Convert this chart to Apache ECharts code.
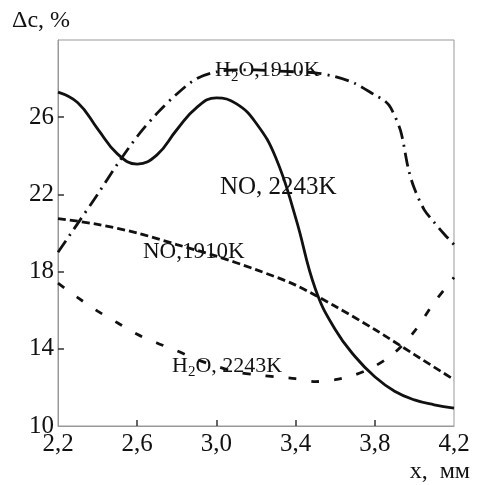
<!DOCTYPE html>
<html>
<head>
<meta charset="utf-8">
<script src="https://cdn.jsdelivr.net/npm/echarts@6/dist/echarts.min.js"></script>
<style>
  html, body { margin: 0; padding: 0; background: #fff; }
  #chart { width: 480px; height: 485px; }
</style>
</head>
<body>
<div id="chart"></div>
<script>
// NO concentration change at 2243 K (solid)
const noHotX = [2.2, 2.3, 2.4, 2.5, 2.6, 2.7, 2.8, 2.9, 3.0, 3.1, 3.2, 3.3, 3.4, 3.5, 3.6, 3.7, 3.8, 3.9, 4.0, 4.1, 4.2];
const noHotY = [27.3, 26.75, 25.4, 24.1, 23.57, 24.05, 25.35, 26.5, 27.0, 26.7, 25.7, 23.9, 20.8, 17.1, 15.0, 13.6, 12.55, 11.8, 11.35, 11.1, 10.93];

// H2O concentration change at 1910 K (dash-dot)
const h2oColdX = [2.2, 2.3, 2.4, 2.5, 2.6, 2.7, 2.8, 2.9, 3.0, 3.1, 3.2, 3.3, 3.4, 3.5, 3.6, 3.7, 3.8, 3.85, 3.88, 3.93, 3.97, 4.0, 4.05, 4.1, 4.15, 4.2];
const h2oColdY = [19.0, 20.5, 22.0, 23.57, 25.0, 26.2, 27.2, 28.0, 28.35, 28.45, 28.45, 28.4, 28.35, 28.3, 28.1, 27.75, 27.15, 26.85, 26.5, 25.3, 23.3, 22.3, 21.2, 20.55, 19.95, 19.4];

// NO concentration change at 1910 K (dashed)
const noColdX = [2.2, 2.4, 2.6, 2.8, 3.0, 3.2, 3.4, 3.6, 3.8, 4.0, 4.2];
const noColdY = [20.75, 20.45, 20.0, 19.4, 18.8, 18.1, 17.3, 16.2, 15.0, 13.7, 12.4];

// H2O concentration change at 2243 K (sparse dashes)
const h2oHotX = [2.2, 2.3, 2.4, 2.5, 2.6, 2.7, 2.8, 2.9, 3.0, 3.1, 3.2, 3.3, 3.4, 3.5, 3.6, 3.7, 3.8, 3.9, 4.0, 4.1, 4.2];
const h2oHotY = [17.4, 16.65, 15.95, 15.35, 14.75, 14.3, 13.9, 13.45, 13.1, 12.8, 12.65, 12.55, 12.45, 12.3, 12.4, 12.65, 13.1, 13.8, 14.9, 16.4, 17.7];

// axis ticks
const xTickLabels = [2.2, 2.6, 3.0, 3.4, 3.8, 4.2];
const xInnerTicks = [2.6, 3.0, 3.4, 3.8];
const yTickLabels = [10, 14, 18, 22, 26];

const serif = "'Liberation Serif', 'Times New Roman', serif";
const ink = '#111';

function pairs(xs, ys) { return xs.map((x, i) => [x, ys[i]]); }

const chart = echarts.init(document.getElementById('chart'));

const baseLine = { type: 'line', symbol: 'none', smooth: 0.3, z: 3 };

chart.setOption({
  animation: false,
  backgroundColor: '#fff',
  grid: { left: 58, top: 40, right: 26, bottom: 59, show: true, borderColor: '#999', borderWidth: 1 },
  xAxis: {
    type: 'value', min: 2.2, max: 4.2,
    axisLine: { show: true, lineStyle: { color: '#999', width: 1 } },
    axisTick: { show: true, inside: true, length: 6, customValues: xInnerTicks, lineStyle: { color: '#333', width: 1.5 } },
    axisLabel: {
      customValues: xTickLabels, margin: 6, color: ink, fontFamily: serif, fontSize: 25,
      formatter: v => v.toFixed(1).replace('.', ',')
    },
    splitLine: { show: false }
  },
  yAxis: {
    type: 'value', min: 10, max: 30,
    axisLine: { show: true, lineStyle: { color: '#999', width: 1 } },
    axisTick: { show: true, inside: true, length: 6, customValues: yTickLabels.slice(1), lineStyle: { color: '#333', width: 1.5 } },
    axisLabel: { customValues: yTickLabels, margin: 4, color: ink, fontFamily: serif, fontSize: 25 },
    splitLine: { show: false }
  },
  series: [
    Object.assign({}, baseLine, { name: 'NO, 2243K', data: pairs(noHotX, noHotY), smooth: 0.45,
      lineStyle: { color: ink, width: 2.8, type: 'solid' } }),
    Object.assign({}, baseLine, { name: 'H2O, 1910K', data: pairs(h2oColdX, h2oColdY),
      lineStyle: { color: ink, width: 2.8, type: [14, 6, 2, 6] } }),
    Object.assign({}, baseLine, { name: 'NO, 1910K', data: pairs(noColdX, noColdY),
      lineStyle: { color: ink, width: 2.8, type: [8, 4] } }),
    Object.assign({}, baseLine, { name: 'H2O, 2243K', data: pairs(h2oHotX, h2oHotY),
      lineStyle: { color: ink, width: 2.8, type: [8, 15] } })
  ]
});

// curve captions, anchored at data coordinates (top-left corner of the text)
function caption(x, y, rich, size) {
  const p = chart.convertToPixel({ gridIndex: 0 }, [x, y]);
  return {
    type: 'text', left: p[0], top: p[1], z: 10,
    style: {
      text: rich, fill: ink, font: size + 'px ' + serif,
      rich: {
        a: { fontSize: size, fontFamily: serif, fill: ink, verticalAlign: 'top', lineHeight: size + 4 },
        s: { fontSize: Math.round(size * 0.68), fontFamily: serif, fill: ink, verticalAlign: 'top', padding: [Math.round(size * 0.45), 0, 0, 0], lineHeight: size + 4 }
      }
    }
  };
}

chart.setOption({
  graphic: [
    caption(2.993, 29.0, '{a|H}{s|2}{a|O,1910K}', 22),
    caption(3.018, 23.03, '{a|NO, 2243K}', 25),
    caption(2.629, 19.62, '{a|NO,1910K}', 23),
    caption(2.776, 13.68, '{a|H}{s|2}{a|O, 2243K}', 22),
    { type: 'text', left: 12, top: 9, style: { text: 'Δc, %', fill: ink, font: '24px ' + serif } },
    { type: 'text', right: 10, top: 460, style: { text: 'x, \u00a0мм', fill: ink, font: '24px ' + serif } }
  ]
});
</script>
</body>
</html>
